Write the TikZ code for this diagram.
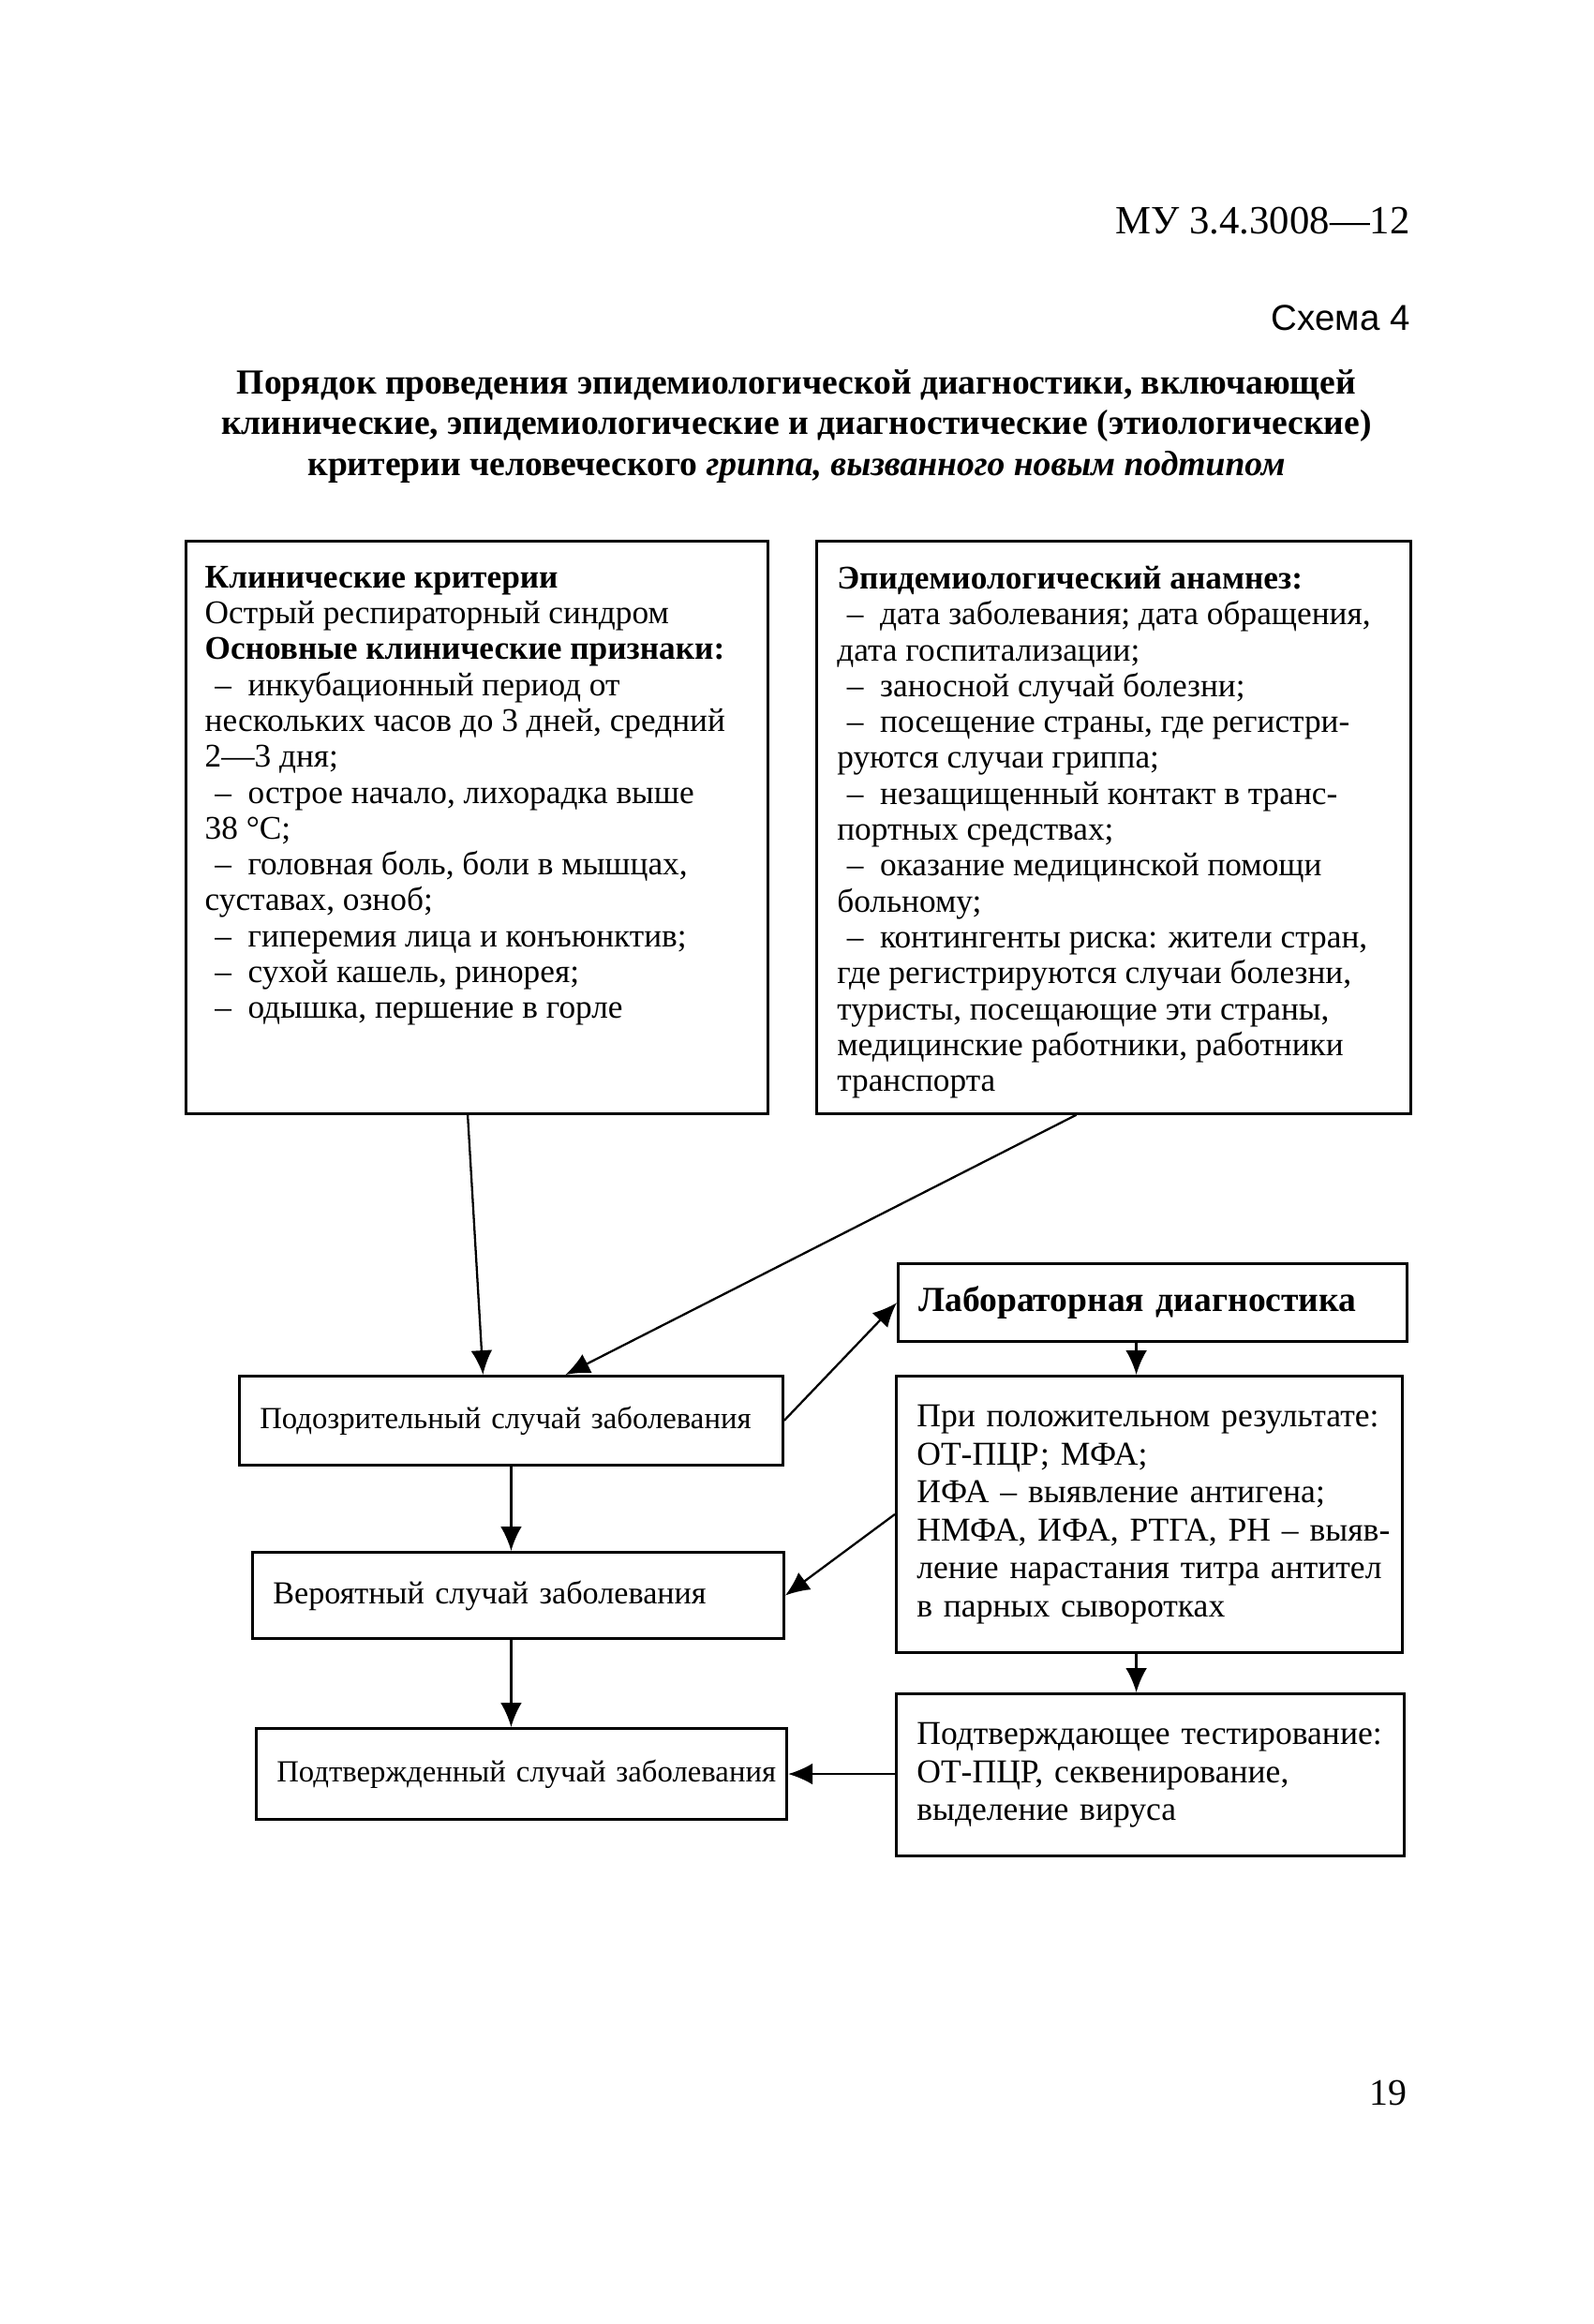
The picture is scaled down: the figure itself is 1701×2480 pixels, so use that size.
\documentclass[tikz,border=0pt]{standalone}
\usepackage{fontspec}
\setmainfont{Liberation Serif}
\newfontfamily\arialfont{Liberation Sans}
\usetikzlibrary{arrows.meta,calc}

\tikzset{
  bigbox/.style={draw, line width=1pt, anchor=north west, inner xsep=0.25cm, inner ysep=0.33cm},
  casebox/.style={draw, line width=1pt, anchor=north west, inner xsep=0.27cm, inner ysep=0cm, align=left,
    font=\fontsize{11.5}{13}\selectfont},
  labbox/.style={casebox, font=\fontsize{12.5}{14.2}\selectfont},
  arr/.style={line width=0.8pt, -{Latex[length=0.32cm,width=0.28cm]}},
}
\newcommand{\dsh}{\hspace*{0.3em}–\hspace{0.5em}}

\begin{document}
\begin{tikzpicture}[x=0.012346cm, y=-0.012346cm]
  \useasboundingbox (0,0) rectangle (1701,2480);

  \node[anchor=east, inner sep=0] (code) at (1505,236) {\fontsize{15}{18}\selectfont МУ 3.4.3008—12};
  \node[anchor=east, inner sep=0] (scheme) at (1505,339) {\arialfont\fontsize{13.5}{16}\selectfont Схема 4};
  \node[align=center, font=\bfseries\fontsize{13.2}{15.2}\selectfont] (title) at (850,455)
    {Порядок проведения эпидемиологической диагностики, включающей\\
     клинические, эпидемиологические и диагностические (этиологические)\\
     критерии человеческого \textit{гриппа, вызванного новым подтипом}};

  % upper boxes
  \node[bigbox] (klin) at (197,576) {\parbox[t][6.88cm][t]{7.17cm}{\fontsize{12.4}{13.45}\selectfont
    \textbf{Клинические критерии}\\
    Острый респираторный синдром\\
    \textbf{Основные клинические признаки:}\\
    \dsh инкубационный период от\\
    нескольких часов до 3 дней, средний\\
    2—3 дня;\\
    \dsh острое начало, лихорадка выше\\
    38 °C;\\
    \dsh головная боль, боли в мышцах,\\
    суставах, озноб;\\
    \dsh гиперемия лица и конъюнктив;\\
    \dsh сухой кашель, ринорея;\\
    \dsh одышка, першение в горле}};
  \node[bigbox, inner xsep=0.27cm] (epid) at (870,576) {\parbox[t][6.88cm][t]{7.29cm}{\fontsize{12.4}{13.45}\selectfont
    \textbf{Эпидемиологический анамнез:}\\
    \dsh дата заболевания; дата обращения,\\
    дата госпитализации;\\
    \dsh заносной случай болезни;\\
    \dsh посещение страны, где регистри-\\
    руются случаи гриппа;\\
    \dsh незащищенный контакт в транс-\\
    портных средствах;\\
    \dsh оказание медицинской помощи\\
    больному;\\
    \dsh контингенты риска: жители стран,\\
    где регистрируются случаи болезни,\\
    туристы, посещающие эти страны,\\
    медицинские работники, работники\\
    транспорта}};

  % cases
  \node[casebox, text width=6.62cm, minimum height=1.17cm] (podozr) at (254,1467)
    {\mbox{Подозрительный случай заболевания}};
  \node[casebox, text width=6.46cm, minimum height=1.14cm, font=\fontsize{12}{13.5}\selectfont] (veroyat) at (268,1655)
    {\mbox{Вероятный случай заболевания}};
  \node[casebox, text width=6.45cm, minimum height=1.2cm] (podtv) at (272,1843)
    {\mbox{Подтвержденный случай заболевания}};

  % laboratory
  \node[labbox, text width=6.16cm, minimum height=1.03cm, font=\bfseries\fontsize{13.2}{15}\selectfont] (lab) at (957,1347)
    {\mbox{Лабораторная диагностика}};
  \node[labbox, text width=6.13cm, minimum height=3.64cm] (polozh) at (955,1467)
    {\begin{tabular}{@{}l@{}}
     При положительном результате:\\
     ОТ-ПЦР;  МФА;\\
     ИФА – выявление антигена;\\
     НМФА, ИФА, РТГА, РН – выяв-\\
     ление нарастания титра антител\\
     в парных сыворотках
     \end{tabular}};
  \node[labbox, text width=6.15cm, minimum height=2.14cm] (test) at (955,1806)
    {\begin{tabular}{@{}l@{}}
     Подтверждающее тестирование:\\
     ОТ-ПЦР, секвенирование,\\
     выделение вируса
     \end{tabular}};

  \node[anchor=east, inner sep=0] (page) at (1502,2233) {\fontsize{14}{16}\selectfont 19};

  \draw[arr] ($(klin.south)+(-10,0)$) -- ($(podozr.north)+(-30,0)$);
  \draw[arr] ($(epid.south)+(-40,0)$) -- ($(podozr.north)+(58,0)$);
  \draw[arr] (podozr.east) -- (lab.west);
  \draw[arr] ($(lab.south -| polozh.north)+(-14,0)$) -- ($(polozh.north)+(-14,0)$);
  \draw[arr] (polozh.west) -- (veroyat.east);
  \draw[arr] (podozr.south) -- (podozr.south |- veroyat.north);
  \draw[arr] (veroyat.south -| podozr.south) -- (podtv.north -| podozr.south);
  \draw[arr] ($(polozh.south)+(-14,0)$) -- ($(test.north -| polozh.south)+(-14,0)$);
  \draw[arr] (test.west |- podtv.east) -- (podtv.east);

\end{tikzpicture}
\end{document}
